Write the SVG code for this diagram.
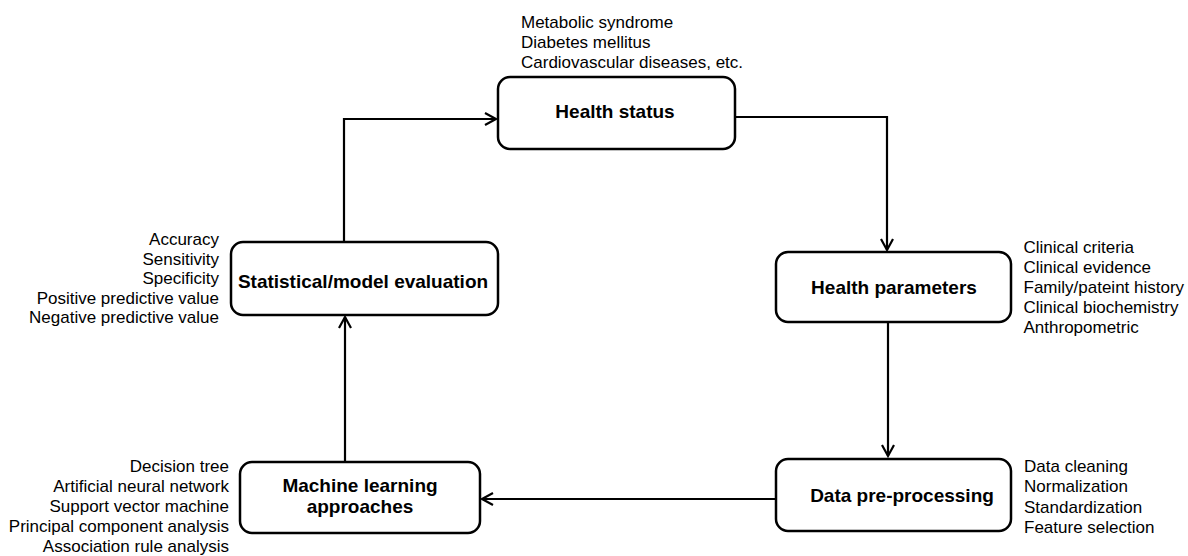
<svg xmlns="http://www.w3.org/2000/svg" width="1188" height="556" viewBox="0 0 1188 556">
<style>
.box{fill:#fff;stroke:#000;stroke-width:2.5}
.title{font-family:"Liberation Sans",Arial,sans-serif;font-weight:bold;font-size:19px;fill:#000;text-anchor:middle}
.lbl{font-family:"Liberation Sans",Arial,sans-serif;font-size:17px;fill:#000}
.end{text-anchor:end}
.conn{fill:none;stroke:#000;stroke-width:2.2;marker-end:url(#arr)}
</style>
<defs>
<marker id="arr" markerUnits="userSpaceOnUse" markerWidth="16" markerHeight="16" viewBox="-13 -8 16 16" refX="0" refY="0" orient="auto">
<path d="M-11,-6 L0,0 L-11,6" fill="none" stroke="#000" stroke-width="2.2" stroke-linejoin="miter"/>
</marker>
</defs>
<rect width="1188" height="556" fill="#fff"/>
<g id="connectors">
<path class="conn" d="M344,242 V119 H496"/>
<path class="conn" d="M735,117 H887 V250"/>
<path class="conn" d="M888,322 V456"/>
<path class="conn" d="M776,499 H482"/>
<path class="conn" d="M345,462 V317"/>
</g>
<g id="health-status">
<rect class="box" x="498" y="77" width="237" height="72" rx="12"/>
<text class="title" x="615" y="118">Health status</text>
<text class="lbl" x="521" y="27.5">Metabolic syndrome</text>
<text class="lbl" x="521" y="47.7">Diabetes mellitus</text>
<text class="lbl" x="521" y="67.8">Cardiovascular diseases, etc.</text>
</g>
<g id="health-parameters">
<rect class="box" x="776" y="252" width="235" height="70" rx="12"/>
<text class="title" x="894" y="294">Health parameters</text>
<text class="lbl" x="1023.5" y="253.3">Clinical criteria</text>
<text class="lbl" x="1023.5" y="273.3">Clinical evidence</text>
<text class="lbl" x="1023.5" y="293.3">Family/pateint history</text>
<text class="lbl" x="1023.5" y="313.3">Clinical biochemistry</text>
<text class="lbl" x="1023.5" y="333.3">Anthropometric</text>
</g>
<g id="data-preprocessing">
<rect class="box" x="776" y="459" width="235" height="72" rx="12"/>
<text class="title" x="902" y="501.5">Data pre-processing</text>
<text class="lbl" x="1024" y="472">Data cleaning</text>
<text class="lbl" x="1024" y="492">Normalization</text>
<text class="lbl" x="1024" y="512.5">Standardization</text>
<text class="lbl" x="1024" y="532.5">Feature selection</text>
</g>
<g id="machine-learning">
<rect class="box" x="240" y="462" width="240" height="71" rx="12"/>
<text class="title" x="360" y="491.7">Machine learning</text>
<text class="title" x="360" y="512.7">approaches</text>
<text class="lbl end" x="229" y="471.7">Decision tree</text>
<text class="lbl end" x="229" y="491.7">Artificial neural network</text>
<text class="lbl end" x="229" y="511.7">Support vector machine</text>
<text class="lbl end" x="229" y="531.7">Principal component analysis</text>
<text class="lbl end" x="229" y="551.7">Association rule analysis</text>
</g>
<g id="statistical-evaluation">
<rect class="box" x="231" y="242" width="267" height="73" rx="12"/>
<text class="title" x="363" y="288.3">Statistical/model evaluation</text>
<text class="lbl end" x="219" y="245">Accuracy</text>
<text class="lbl end" x="219" y="264.5">Sensitivity</text>
<text class="lbl end" x="219" y="284">Specificity</text>
<text class="lbl end" x="219" y="303.5">Positive predictive value</text>
<text class="lbl end" x="219" y="323">Negative predictive value</text>
</g>
</svg>
